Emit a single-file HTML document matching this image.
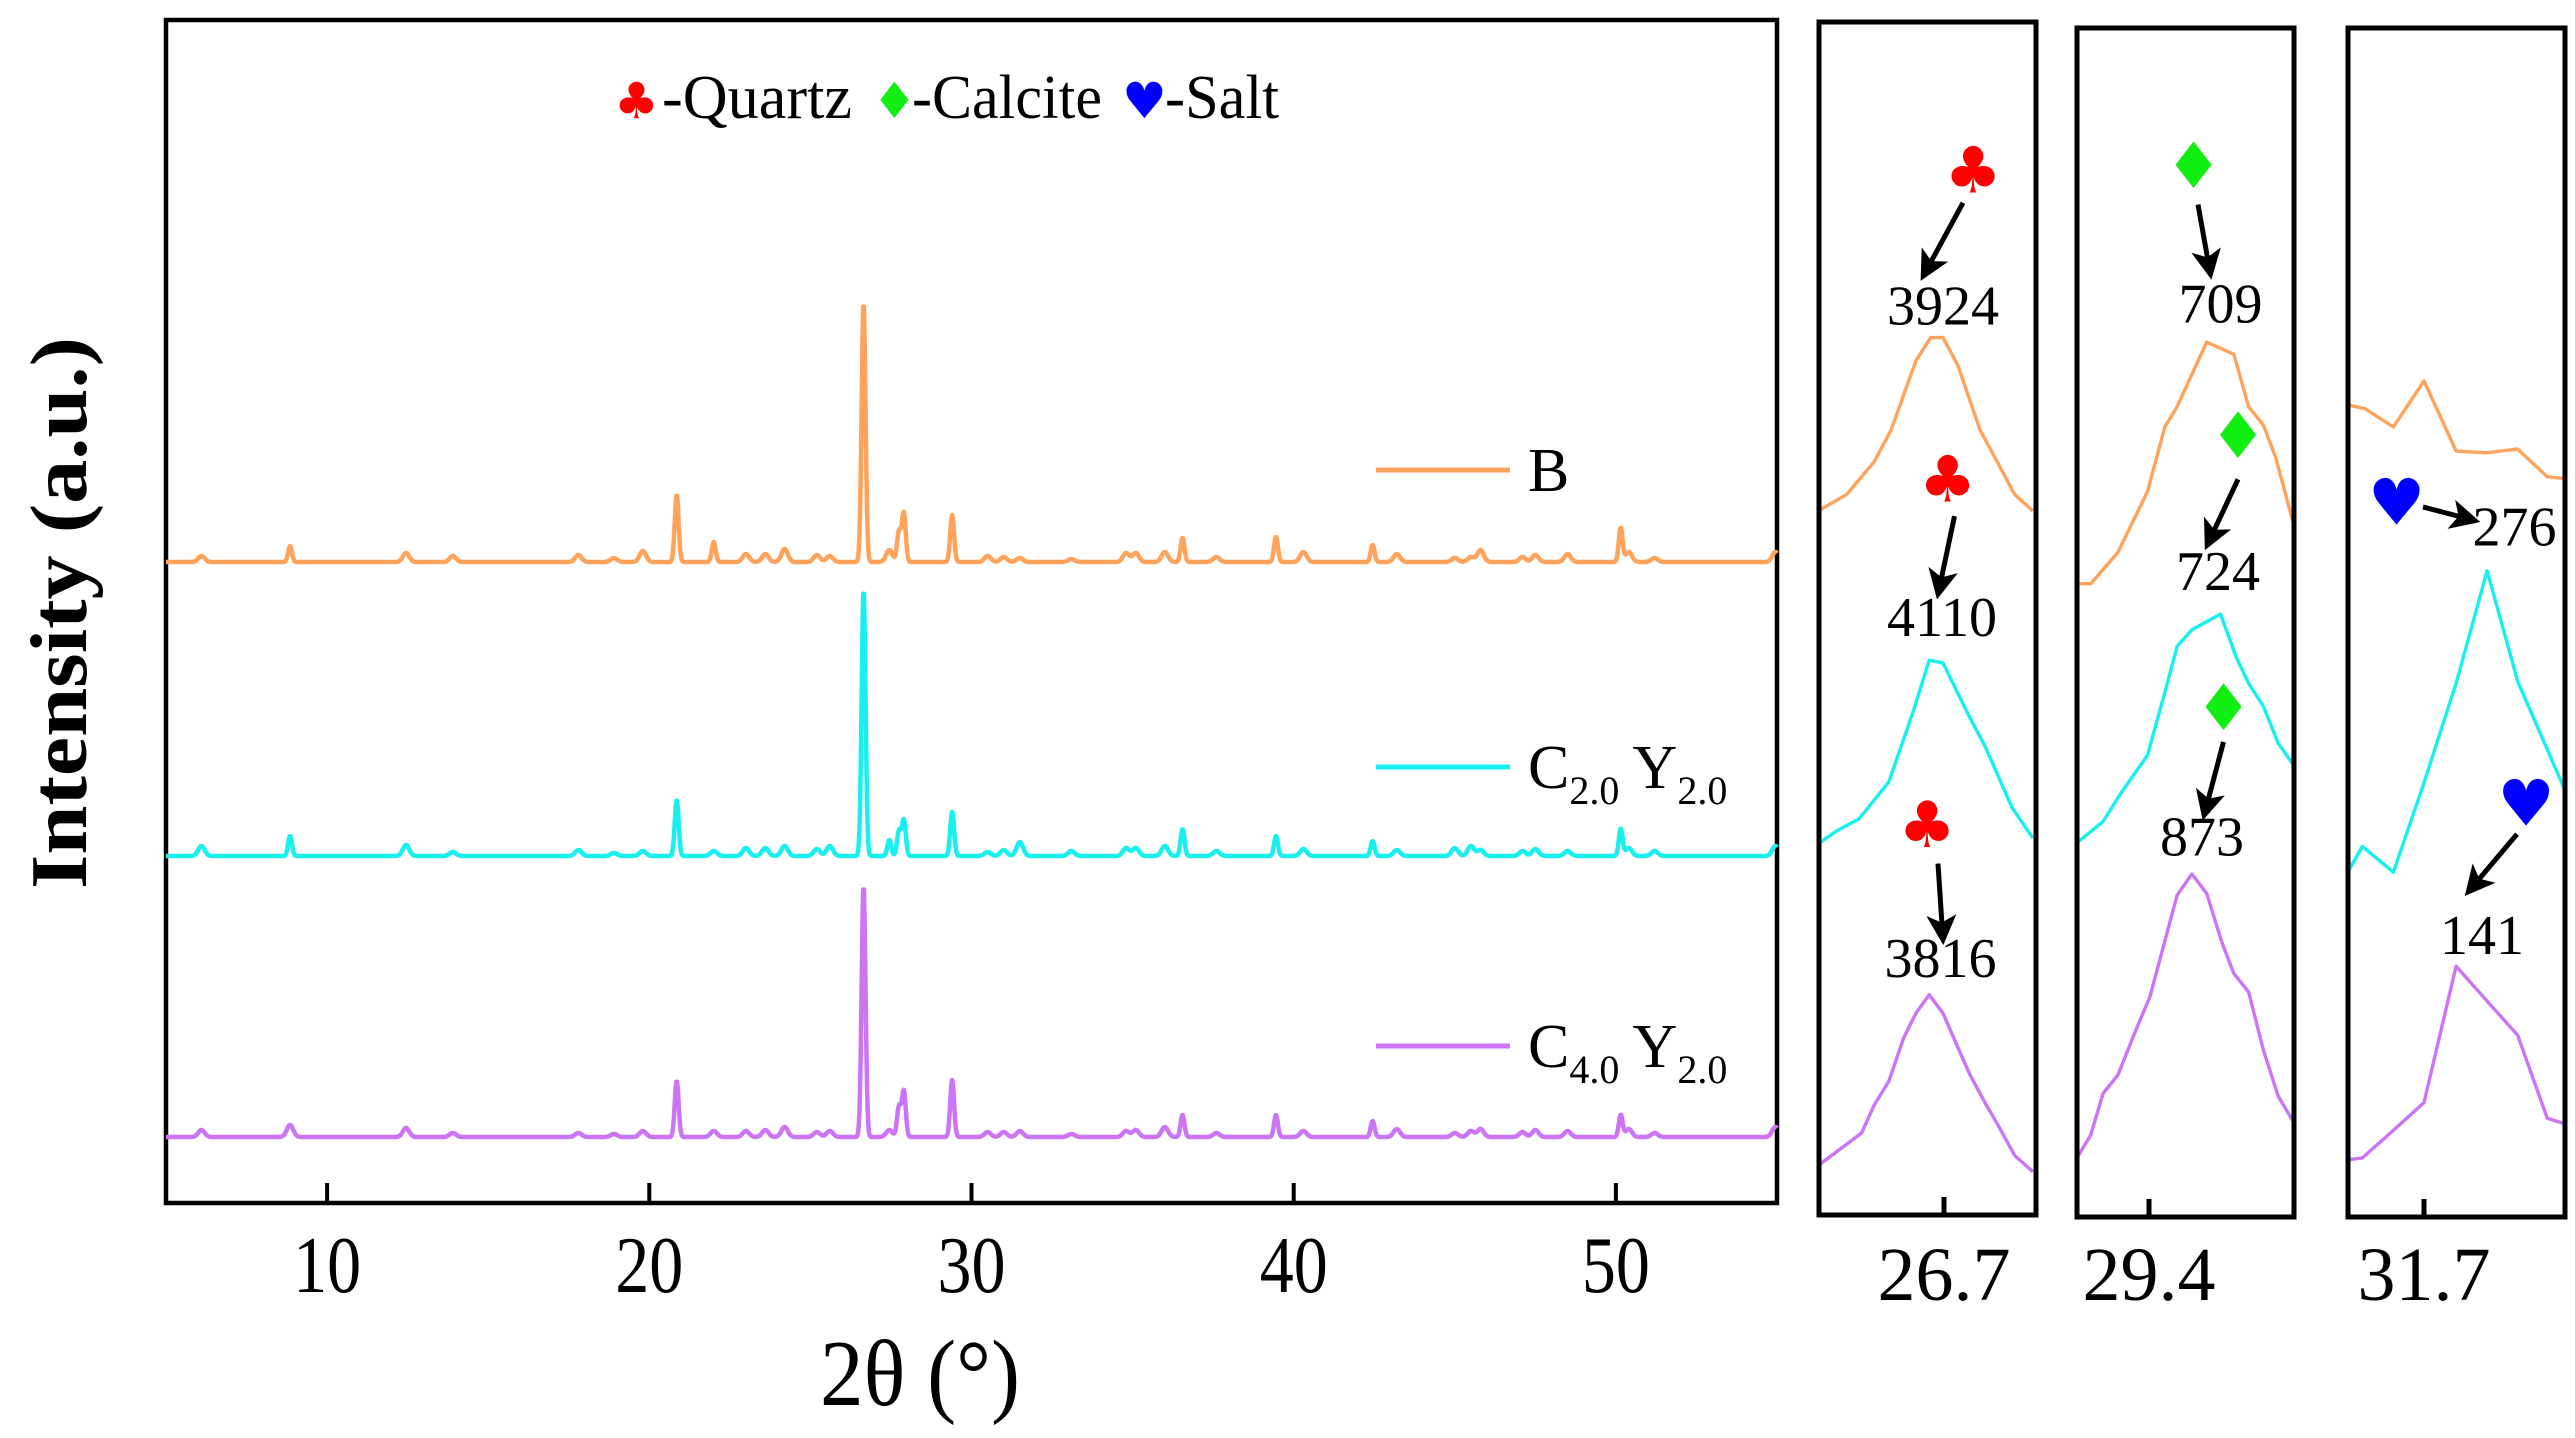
<!DOCTYPE html>
<html><head><meta charset="utf-8"><style>
html,body{margin:0;padding:0;background:#fff}
svg{display:block}
text{font-family:"Liberation Serif",serif;fill:#000}
.sym{font-family:"DejaVu Sans",sans-serif}
</style></head><body>
<svg id="chart" width="2575" height="1438" viewBox="0 0 2575 1438" xmlns="http://www.w3.org/2000/svg">
<g id="main"></g>
<g id="insets"></g>
<text x="0" y="0" font-size="80" font-weight="bold" text-anchor="middle" transform="translate(86,613) rotate(-90)" textLength="552" lengthAdjust="spacingAndGlyphs">Intensity (a.u.)</text>
<text x="920" y="1405" font-size="94" text-anchor="middle" textLength="200" lengthAdjust="spacingAndGlyphs">2θ (°)</text>
<g>
<text class="sym" x="614" y="118" font-size="50" style="fill:#ff0000">♣</text>
<text x="662" y="118" font-size="62" textLength="190" lengthAdjust="spacingAndGlyphs">-Quartz</text>
<text class="sym" x="872" y="118" font-size="50" style="fill:#11ee11">♦</text>
<text x="912" y="118" font-size="62" textLength="190" lengthAdjust="spacingAndGlyphs">-Calcite</text>
<text class="sym" x="1122" y="118" font-size="50" style="fill:#0000ff">♥</text>
<text x="1165" y="118" font-size="62" textLength="114" lengthAdjust="spacingAndGlyphs">-Salt</text>
</g>
</svg>
<script>
const NS="http://www.w3.org/2000/svg";
// ---------- main chart data ----------
const peakPositions=[6.1,8.85,12.45,13.9,17.8,18.9,19.8,20.85,22.0,23.0,23.6,24.2,25.2,25.6,26.65,27.45,27.75,27.9,29.4,30.5,31.0,31.5,33.1,34.8,35.1,36.0,36.55,37.6,39.45,40.3,42.45,43.2,45.0,45.5,45.8,47.1,47.5,48.5,50.15,50.4,51.2,54.95];
const heightsB=[6,16,9,6,7,4,11,67,20,8,8,13,7,6,259,12,30,49,47,6,5,4,3,9,9,10,24,5,25,10,17,8,4,5,12,5,7,8,34,10,4,10];
const heightsC2=[10,20,11,4,6,3,5,56,5,8,8,10,7,10,266,16,25,36,44,4,6,14,5,8,8,10,27,5,20,7,15,6,8,10,6,5,7,5,27,8,5,10];
const heightsC4=[7,12,9,4,4,3,6,56,6,6,7,10,5,6,251,7,30,46,57,5,5,6,3,6,7,10,22,4,22,6,16,8,4,6,8,5,7,6,22,8,4,10];
const seriesOffsets=[0,294,575];
const seriesColors=["#ffa35c","#18f0f0","#cc74f6"];
const xTicks=[10,20,30,40,50];
const xMin=5,xMax=55;
const PL=166,PR=1777,PT=20,PB=1203;
const xScale=t=>PL+(t-xMin)/(xMax-xMin)*(PR-PL);
const yScale=(v,off)=>562+off-v;

function el(tag,attrs,parent){const e=document.createElementNS(NS,tag);for(const k in attrs)e.setAttribute(k,attrs[k]);parent.appendChild(e);return e;}
const main=document.getElementById('main');
const frame=el('rect',{x:PL,y:PT,width:PR-PL,height:PB-PT,fill:'none',stroke:'#000','stroke-width':4.5},main);


xTicks.forEach(t=>{
  const tk=el('line',{x1:xScale(t),x2:xScale(t),y1:PB,y2:PB-20,stroke:'#000','stroke-width':4},main);
  
  
  const lb=el('text',{x:xScale(t),y:1292,'font-size':80,'text-anchor':'middle',textLength:68,lengthAdjust:'spacingAndGlyphs'},main);
  lb.textContent=t;
  
  
});
function intensity(t,hs){
  let s=0;
  for(let i=0;i<peakPositions.length;i++){
    const sg=hs[i]<15?0.1:0.06;
    const d=(t-peakPositions[i])/sg;
    s+=hs[i]*Math.exp(-0.5*d*d);
  }
  return s;
}
[heightsB,heightsC2,heightsC4].forEach((hs,si)=>{
  let d="";
  for(let t=xMin;t<=xMax+1e-9;t+=0.02){
    d+=(d?"L":"M")+xScale(t).toFixed(1)+","+yScale(intensity(t,hs),seriesOffsets[si]).toFixed(1);
  }
  const p=el('path',{d:d,fill:'none',stroke:seriesColors[si],'stroke-width':4.5,'stroke-linejoin':'round'},main);
  
  
});
const legY=[470,767,1046];
legY.forEach((y,i)=>{
  const g=el('g',{},main);
  
  
  el('line',{x1:1376,x2:1510,y1:y,y2:y,stroke:seriesColors[i],'stroke-width':5},g);
  const tx=el('text',{x:1528,y:y+21,'font-size':62},g);
  if(i===0){tx.textContent="B";}
  else{
    const a=i===1?"2.0":"4.0";
    tx.innerHTML='C<tspan font-size="40" dy="16">'+a+'</tspan><tspan dy="-16" font-size="62"> Y</tspan><tspan font-size="40" dy="16">2.0</tspan>';
  }
});

// ---------- inset data ----------
const inset1X={b:[26.448,26.503,26.558,26.593,26.643,26.673,26.698,26.728,26.773,26.808,26.843,26.88],
 c2:[26.448,26.483,26.528,26.588,26.638,26.670,26.698,26.753,26.783,26.838,26.88],
 c4:[26.448,26.503,26.533,26.558,26.588,26.618,26.643,26.670,26.698,26.728,26.753,26.783,26.808,26.843,26.88]};
const inset1Y={b:[748,765,800,835,910,935,935,905,835,800,765,747],
 c2:[387,400,413,453,530,585,582,522,492,425,392],
 c4:[38,60,72,102,128,175,202,222,202,165,135,105,82,48,30]};
const inset2X={b:[29.254,29.282,29.337,29.397,29.432,29.457,29.517,29.572,29.602,29.632,29.657,29.692],
 c2:[29.254,29.307,29.342,29.397,29.432,29.457,29.487,29.545,29.577,29.602,29.632,29.662,29.692],
 c4:[29.254,29.282,29.307,29.337,29.372,29.402,29.457,29.487,29.517,29.547,29.572,29.602,29.632,29.662,29.692]};
const inset2Y={b:[668,668,702,768,838,860,930,917,860,840,805,735],
 c2:[387,410,440,482,550,600,618,635,588,560,535,495,472],
 c4:[45,70,115,135,182,220,330,353,332,280,245,225,162,112,85]};
const inset3X={b:[31.545,31.58,31.638,31.7,31.765,31.825,31.89,31.95,31.985],
 c2:[31.545,31.575,31.638,31.7,31.765,31.828,31.89,31.95,31.985],
 c4:[31.545,31.575,31.638,31.7,31.765,31.825,31.89,31.95,31.985]};
const inset3Y={b:[862,858,838,888,812,810,814,784,782],
 c2:[355,383,355,452,560,682,562,488,445],
 c4:[43,45,75,105,253,217,178,88,82]};
const insetTicks=[26.7,29.4,31.7];

const panels=[
 {x0:1819,x1:2036,y0:22,y1:1215,tickX:1944,X:inset1X,Y:inset1Y},
 {x0:2077,x1:2294,y0:28,y1:1217,tickX:2149,X:inset2X,Y:inset2Y},
 {x0:2348,x1:2565,y0:28,y1:1217,tickX:2424,X:inset3X,Y:inset3Y}];
const insets=document.getElementById('insets');
const defs=el('defs',{},insets);
const Z=(zx,zy)=>[1800+zx/2-2,zy/1.085];
panels.forEach((p,pi)=>{
  const g=el('g',{},insets);
  
  
  const cp=el('clipPath',{id:'cp'+pi},defs);
  el('rect',{x:p.x0,y:p.y0,width:p.x1-p.x0,height:p.y1-p.y0},cp);
  const ix=t=>p.tickX+(t-insetTicks[pi])*(p.x1-p.x0)/0.44;
  const iy=v=>1216-(v+18)*0.9217;
  const cg=el('g',{'clip-path':'url(#cp'+pi+')'},g);
  ['b','c2','c4'].forEach((k,si)=>{
    const d=p.X[k].map((t,i)=>(i?"L":"M")+ix(t).toFixed(1)+","+iy(p.Y[k][i]).toFixed(1)).join("");
    const l=el('path',{d:d,fill:'none',stroke:seriesColors[si],'stroke-width':3.4,'stroke-linejoin':'round'},cg);
    
    
  });
  const fr=el('rect',{x:p.x0,y:p.y0,width:p.x1-p.x0,height:p.y1-p.y0,fill:'none',stroke:'#000','stroke-width':5},g);
  
  
  const tk=el('line',{x1:p.tickX,x2:p.tickX,y1:p.y1,y2:p.y1-18,stroke:'#000','stroke-width':5},g);
  
  
  const tl=el('text',{x:p.tickX,y:1300,'font-size':76,'text-anchor':'middle'},g);
  tl.textContent=insetTicks[pi].toFixed(1);
  
  
});
const ann=el('g',{},insets);


const marker=el('marker',{id:'ah',markerWidth:6,markerHeight:6,refX:5,refY:3,orient:'auto',markerUnits:'strokeWidth'},defs);
el('path',{d:'M0,0 L6,3 L0,6 L1.5,3 Z',fill:'#000'},marker);
const numLabels=[[290,352,"3924"],[288,690,"4110"],[285,1060,"3816"],[845,350,"709"],[840,640,"724"],[808,928,"873"],[1433,592,"276"],[1368,1035,"141"]];
numLabels.forEach(n=>{const [x,y]=Z(n[0],n[1]);const t=el('text',{x:x,y:y,'font-size':56,'text-anchor':'middle'},ann);t.textContent=n[2];
  
  });
const syms=[[350,185,"♣","#ff0000"],[299,520,"♣","#ff0000"],[258,895,"♣","#ff0000"],[791,180,"♦","#11ee11"],[880,473,"♦","#11ee11"],[851,768,"♦","#11ee11"],[1197,545,"♥","#0000ff"],[1456,872,"♥","#0000ff"]];
syms.forEach(s=>{const [x,y]=Z(s[0],s[1]);const t=el('text',{x:x,y:y+22,'font-size':64,'text-anchor':'middle',class:'sym',style:'fill:'+s[3]},ann);t.textContent=s[2];
  
  });
const arrows=[[330,220,250,300],[313,560,280,645],[280,937,290,1020],[800,222,825,298],[880,520,818,592],[851,805,812,885],[1250,550,1355,565],[1438,905,1340,968]];
arrows.forEach(a=>{const [x1,y1]=Z(a[0],a[1]);const [x2,y2]=Z(a[2],a[3]);
  const l=el('line',{x1:x1,y1:y1,x2:x2,y2:y2,stroke:'#000','stroke-width':5,'marker-end':'url(#ah)'},ann);
  
  });
</script>
</body></html>
